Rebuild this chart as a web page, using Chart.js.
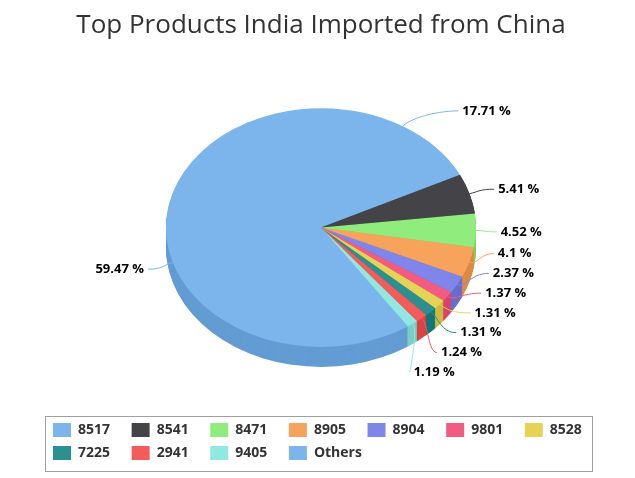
<!DOCTYPE html>
<html>
<head>
<meta charset="utf-8">
<title>Top Products India Imported from China</title>
<script src="https://cdn.jsdelivr.net/npm/chart.js@4/dist/chart.umd.min.js"></script>
<style>
  body { margin: 0; background: #fff; }
  canvas { display: block; }
</style>
</head>
<body>
<canvas id="importsChart" width="635" height="478"></canvas>
<script>
const codes = ['8517', '8541', '8471', '8905', '8904', '9801', '8528', '7225', '2941', '9405', 'Others'];
const shares = [17.71, 5.41, 4.52, 4.1, 2.37, 1.37, 1.31, 1.31, 1.24, 1.19, 59.47];
const colors = ['#7cb5ec', '#434348', '#90ed7d', '#f7a35c', '#8085e9', '#f15c80',
                '#e4d354', '#2b908f', '#f45b5b', '#91e8e1', '#7cb5ec'];

const TILT = 0.77;   // squash of the top face
const DEPTH = 20;    // thickness of the pie in px
const LEGEND_FONT = 'bold 14px "Open Sans"';
const LEGEND_PER_ROW = 7;
const LEGEND_TEXT_W = 44;  // fixed item width so the columns line up

function shade(hex, amt) {
    const n = parseInt(hex.slice(1), 16);
    const c = [(n >> 16) & 255, (n >> 8) & 255, n & 255].map(v => Math.max(0, Math.min(255, v + amt)));
    return `rgb(${c[0]}, ${c[1]}, ${c[2]})`;
}

function arcProps(arc) {
    return arc.getProps(['x', 'y', 'startAngle', 'endAngle', 'outerRadius'], true);
}

// draws the side wall, then squashes the top face
const tiltPlugin = {
    id: 'tilt',
    beforeDatasetDraw(chart, args) {
        const ctx = chart.ctx;
        const arcs = args.meta.data.map(arcProps);
        const cy = arcs[0].y;
        for (let d = DEPTH; d > 0; d--) {
            ctx.save();
            ctx.translate(0, cy + d);
            ctx.scale(1, TILT);
            ctx.translate(0, -cy);
            arcs.forEach((a, i) => {
                ctx.beginPath();
                ctx.moveTo(a.x, a.y);
                ctx.arc(a.x, a.y, a.outerRadius, a.startAngle, a.endAngle);
                ctx.closePath();
                ctx.fillStyle = shade(colors[i], -25);
                ctx.fill();
            });
            ctx.restore();
        }
        ctx.save();
        ctx.translate(0, cy);
        ctx.scale(1, TILT);
        ctx.translate(0, -cy);
    },
    afterDatasetDraw(chart) {
        chart.ctx.restore();
    }
};

// spread labels on one side so they don't overlap (groups centred on their targets)
function spread(items, gap) {
    items.sort((a, b) => a.target - b.target);
    let groups = items.map(it => ({ items: [it] }));
    const top = g => g.items.reduce((s, it) => s + it.target, 0) / g.items.length - (g.items.length - 1) * gap / 2;
    let merged = true;
    while (merged) {
        merged = false;
        for (let i = 0; i < groups.length - 1; i++) {
            const g = groups[i], h = groups[i + 1];
            if (top(h) - (top(g) + (g.items.length - 1) * gap) < gap) {
                groups.splice(i, 2, { items: g.items.concat(h.items) });
                merged = true;
                break;
            }
        }
    }
    groups.forEach(g => {
        const t = top(g);
        g.items.forEach((it, j) => { it.y = t + j * gap; });
    });
}

const labelPlugin = {
    id: 'sliceLabels',
    afterDatasetsDraw(chart) {
        const ctx = chart.ctx;
        const arcs = chart.getDatasetMeta(0).data.map(arcProps);
        const cx = arcs[0].x, cy = arcs[0].y, R = arcs[0].outerRadius;
        const right = [], left = [];
        arcs.forEach((a, i) => {
            const mid = (a.startAngle + a.endAngle) / 2;
            const item = {
                i, mid,
                ax: cx + R * Math.cos(mid),
                ay: cy + R * TILT * Math.sin(mid),
                target: cy + (R + 25) * TILT * Math.sin(mid) + 1
            };
            (Math.cos(mid) >= 0 ? right : left).push(item);
        });
        spread(right, 19.8);
        spread(left, 19.8);

        const rx = 180, ry = 177, ly = cy - 7;
        ctx.save();
        ctx.font = 'bold 13px "Open Sans"';
        ctx.textBaseline = 'middle';
        ctx.lineWidth = 1;
        [[right, 1], [left, -1]].forEach(([list, side]) => {
            list.forEach(it => {
                const q = Math.max(0, 1 - Math.pow((it.y - ly) / ry, 2));
                const lx = cx + side * rx * Math.sqrt(q) - (side < 0 ? 4 : 0);
                const ex = lx - side * 4;
                const bend = Math.max(0, Math.min(25, side * (ex - it.ax) * 0.6));
                ctx.strokeStyle = colors[it.i];
                ctx.beginPath();
                ctx.moveTo(ex, it.y);
                ctx.bezierCurveTo(ex - side * bend, it.y,
                    it.ax + Math.cos(it.mid) * 10, it.ay + Math.sin(it.mid) * 10 * TILT,
                    it.ax, it.ay);
                ctx.stroke();
                ctx.fillStyle = '#000';
                ctx.textAlign = side > 0 ? 'left' : 'right';
                ctx.fillText(`${shares[it.i]} %`, lx, it.y);
            });
        });
        ctx.restore();
    }
};

// grey frame round the legend
const legendFrame = {
    id: 'legendFrame',
    afterDraw(chart) {
        const boxes = chart.legend.legendHitBoxes;
        if (!boxes || !boxes.length) return;
        const l = Math.min(...boxes.map(b => b.left)) - 8;
        const r = Math.max(...boxes.map(b => b.left + b.width)) + 10;
        const t = Math.min(...boxes.map(b => b.top)) - 7;
        const b = Math.max(...boxes.map(b => b.top + b.height)) + 11;
        const ctx = chart.ctx;
        ctx.save();
        ctx.strokeStyle = '#a0a0a0';
        ctx.lineWidth = 1;
        ctx.strokeRect(Math.round(l) + 0.5, Math.round(t) + 0.5, Math.round(r - l), Math.round(b - t));
        ctx.restore();
    }
};

const ctx = document.getElementById('importsChart').getContext('2d');
const importsChart = new Chart(ctx, {
    type: 'pie',
    data: {
        labels: codes,
        datasets: [{
            data: shares,
            backgroundColor: colors,
            borderWidth: 0,
            radius: 155
        }]
    },
    options: {
        responsive: false,
        animation: false,
        events: [],
        layout: { padding: { left: 44, right: 37, top: 0, bottom: 8 } },
        plugins: {
            title: {
                display: true,
                text: 'Top Products India Imported from China',
                color: '#333333',
                font: { family: '"Open Sans"', size: 26, weight: 'normal' },
                padding: { top: 10, bottom: 0 }
            },
            legend: {
                position: 'bottom',
                align: 'start',
                labels: {
                    boxWidth: 18,
                    boxHeight: 14,
                    padding: 9,
                    color: '#333333',
                    font: { family: '"Open Sans"', size: 14, weight: 'bold' },
                    generateLabels(chart) {
                        const items = Chart.overrides.pie.plugins.legend.labels.generateLabels(chart);
                        const c = chart.ctx;
                        c.save();
                        c.font = LEGEND_FONT;
                        const out = items.map((it, i) => {
                            let text = it.text;
                            if (i % LEGEND_PER_ROW !== LEGEND_PER_ROW - 1) {
                                for (let n = 0; n < 80 && c.measureText(text).width < LEGEND_TEXT_W; n++) text += '\u200a';
                            }
                            return { ...it, text, lineWidth: 0 };
                        });
                        c.restore();
                        return out;
                    }
                }
            },
            tooltip: { enabled: false }
        }
    },
    plugins: [tiltPlugin, labelPlugin, legendFrame]
});
</script>
</body>
</html>
